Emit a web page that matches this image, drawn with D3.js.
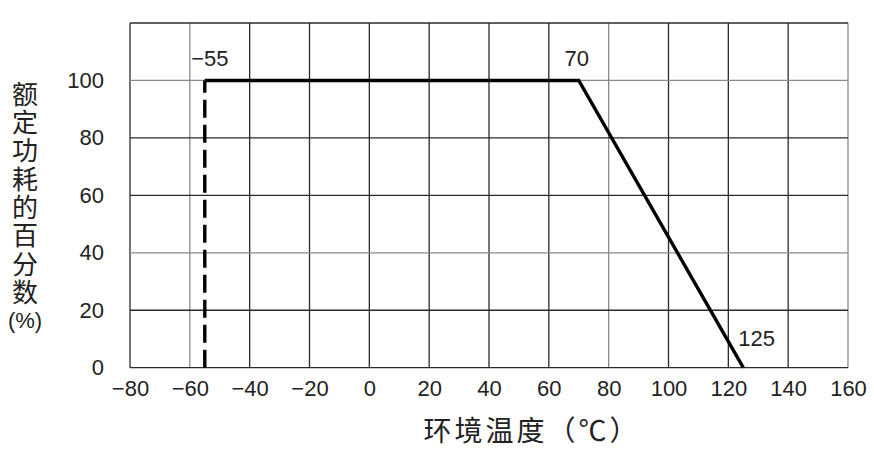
<!DOCTYPE html>
<html><head><meta charset="utf-8">
<script src="https://cdn.jsdelivr.net/npm/d3@7"></script>
<style>
body{margin:0;background:#fff;}
svg{display:block;}
</style></head>
<body>
<svg id="chart" width="874" height="450"></svg>
<script>
const xTicks = [-80,-60,-40,-20,0,20,40,60,80,100,120,140,160];
const yTicks = [0,20,40,60,80,100];
const dashedPts = [[-55,0],[-55,100]];
const solidPts = [[-55,100],[70,100],[125,0]];
const pointLabels = [{t:"−55", x:-55, y:100}, {t:"70", x:70, y:100}, {t:"125", x:125, y:0}];
const yTitleMain = "额定功耗的百分数";
const yTitleUnit = "(%)";
const xTitle = "环境温度（℃）";

const svg = d3.select("#chart");
const x = d3.scaleLinear().domain([-80,160]).range([130,848]);
const y = d3.scaleLinear().domain([0,120]).range([367.7,23]);

const lightX = new Set([-60,80,160]);
const lightY = new Set([100,40]);

// grid
svg.append("g").selectAll("line").data(xTicks).join("line")
  .attr("x1",d=>x(d)).attr("x2",d=>x(d)).attr("y1",y(0)).attr("y2",y(120))
  .attr("stroke",d=>lightX.has(d)?"#8a8a8a":"#2a2a2a").attr("stroke-width",1.3);
svg.append("g").selectAll("line").data(yTicks.concat([120])).join("line")
  .attr("x1",x(-80)).attr("x2",x(160)).attr("y1",d=>y(d)).attr("y2",d=>y(d))
  .attr("stroke",d=>lightY.has(d)?"#8a8a8a":"#2a2a2a").attr("stroke-width",1.3);

// axes labels via d3 axes
const xAxis = svg.append("g").attr("transform",`translate(0,${y(0)})`)
  .call(d3.axisBottom(x).tickValues(xTicks).tickSize(0).tickPadding(13));
xAxis.select(".domain").remove();
xAxis.selectAll("text").attr("font-family","Liberation Sans, Arial, sans-serif")
  .attr("font-size",22).attr("fill","#222");

const yAxis = svg.append("g").attr("transform",`translate(104,0)`)
  .call(d3.axisLeft(y).tickValues(yTicks).tickSize(0).tickPadding(0));
yAxis.select(".domain").remove();
yAxis.selectAll("text").attr("font-family","Liberation Sans, Arial, sans-serif")
  .attr("font-size",22).attr("fill","#222");

// lines
const line = d3.line().x(d=>x(d[0])).y(d=>y(d[1]));
svg.append("path").datum(dashedPts).attr("d",line).attr("fill","none")
  .attr("stroke","#000").attr("stroke-width",3.4).attr("stroke-dasharray","18,7");
svg.append("path").datum(solidPts).attr("d",line).attr("fill","none")
  .attr("stroke","#000").attr("stroke-width",3.4).attr("stroke-linejoin","miter");

// point labels
const off = {"−55":[5,-14,"middle"],"70":[-2,-14,"middle"],"125":[-5,-22,"start"]};
svg.append("g").selectAll("text").data(pointLabels).join("text")
  .attr("x",d=>x(d.x)+off[d.t][0]).attr("y",d=>y(d.y)+off[d.t][1])
  .attr("text-anchor",d=>off[d.t][2])
  .attr("font-family","Liberation Sans, Arial, sans-serif").attr("font-size",22).attr("fill","#222")
  .text(d=>d.t);

// y title: vertical text
svg.append("text").attr("x",25).attr("y",81)
  .style("writing-mode","vertical-rl").style("text-orientation","upright")
  .attr("letter-spacing",2.3)
  .attr("font-family","Noto Sans CJK SC, sans-serif").attr("font-size",26).attr("fill","#222")
  .text(yTitleMain);
svg.append("text").attr("x",25).attr("y",320).attr("dy","0.35em").attr("text-anchor","middle")
  .attr("font-family","Liberation Sans, Arial, sans-serif").attr("font-size",22).attr("fill","#222")
  .text(yTitleUnit);

// x title
svg.append("text").attr("x",532).attr("y",431).attr("dy","0.35em")
  .attr("text-anchor","middle").attr("letter-spacing",3)
  .attr("font-family","Noto Sans CJK SC, sans-serif").attr("font-size",28).attr("fill","#222")
  .text(xTitle);
</script>
</body></html>
